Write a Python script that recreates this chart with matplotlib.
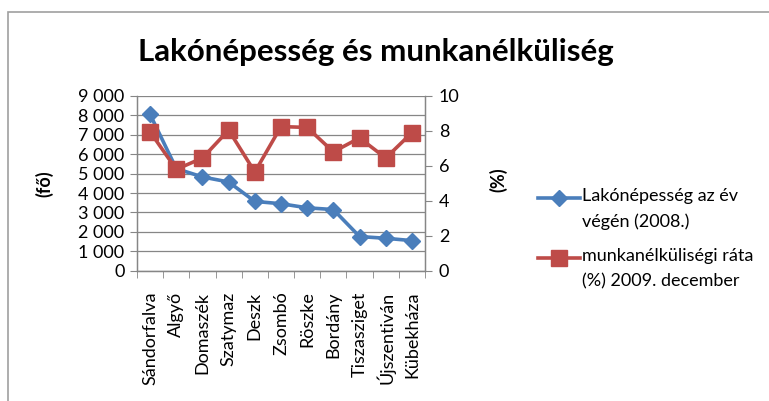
import matplotlib
matplotlib.use("Agg")
import matplotlib.pyplot as plt
from matplotlib.patches import Rectangle
from matplotlib.lines import Line2D

plt.rcParams['font.family'] = ['Lato', 'DejaVu Sans']

categories = ["Sándorfalva", "Algyő", "Domaszék", "Szatymaz", "Deszk", "Zsombó",
              "Röszke", "Bordány", "Tiszasziget", "Újszentiván", "Kübekháza"]
population = [8050, 5260, 4830, 4570, 3570, 3450, 3240, 3150, 1760, 1670, 1550]
unemployment = [7.95, 5.8, 6.45, 8.05, 5.65, 8.25, 8.2, 6.8, 7.6, 6.45, 7.9]
left_ticks = [0, 1000, 2000, 3000, 4000, 5000, 6000, 7000, 8000, 9000]
left_labels = ["0", "1 000", "2 000", "3 000", "4 000", "5 000", "6 000", "7 000", "8 000", "9 000"]
right_ticks = [0, 2, 4, 6, 8, 10]
series_names = ["Lakónépesség az év\nvégén (2008.)", "munkanélküliségi ráta\n(%) 2009. december"]

blue = "#4a7ebb"
red = "#be4b48"
grid_c = "#868686"

W, H = 769, 401
fig = plt.figure(figsize=(W / 100, H / 100), dpi=100)

# outer chart border
fig.patches.append(Rectangle((8 / W, -0.2), 1.2, 1.2 - 12 / H, transform=fig.transFigure,
                             fill=False, edgecolor="#a0a0a0", linewidth=1.2))

ax = fig.add_axes([137 / W, 1 - 270.7 / H, (425 - 137) / W, (270.7 - 96) / H])
ax2 = ax.twinx()

x = list(range(len(categories)))
ax.plot(x, population, color=blue, linewidth=2.6, marker="D", markersize=8.5,
        markeredgecolor=blue, zorder=3)
ax2.plot(x, unemployment, color=red, linewidth=2.6, marker="s", markersize=11,
         markeredgecolor=red, zorder=3)

ax.set_xlim(-0.5, len(categories) - 0.5)
ax.set_ylim(0, 9000)
ax2.set_ylim(0, 10)
ax.set_yticks(left_ticks)
ax.set_yticklabels(left_labels)
ax2.set_yticks(right_ticks)

ax.set_xticks(x)
ax.set_xticklabels(categories, rotation=90, fontsize=13)
ax.tick_params(axis="x", length=0, pad=15)
ax.set_xticks([i - 0.5 for i in range(len(categories) + 1)], minor=True)
ax.tick_params(axis="x", which="minor", length=5, color=grid_c, direction="out")

ax.grid(axis="y", color=grid_c, linewidth=0.9)
ax.set_axisbelow(True)
ax.tick_params(axis="y", length=5, color=grid_c, labelsize=13, pad=4)
ax2.tick_params(axis="y", length=5, color=grid_c, labelsize=13, pad=5)

for a in (ax, ax2):
    a.spines["top"].set_visible(False)
    for s in ("left", "right", "bottom"):
        a.spines[s].set_color(grid_c)
        a.spines[s].set_linewidth(0.9)
    a.patch.set_visible(False)

ax.set_ylabel("(fő)", fontsize=13, fontweight="bold")
ax.yaxis.set_label_coords((53 - 137) / 288, 0.5)
ax2.set_ylabel("(%)", fontsize=13, fontweight="bold")
ax2.yaxis.set_label_coords((489 - 137) / 288, 0.52)

fig.text(376 / W, 1 - 52 / H, "Lakónépesség és munkanélküliség", ha="center", va="center",
         fontsize=22.5, fontweight="bold")

# legend (drawn manually so the marker lines up with the first text line)
leg_y = [198, 258]
styles = [dict(color=blue, marker="D", markersize=8.5), dict(color=red, marker="s", markersize=11)]
for name, yy, st in zip(series_names, leg_y, styles):
    fig.add_artist(Line2D([538 / W, 580 / W], [1 - yy / H, 1 - yy / H], transform=fig.transFigure,
                          linewidth=2.6, color=st["color"]))
    fig.add_artist(Line2D([559 / W], [1 - yy / H], transform=fig.transFigure,
                          linestyle="none", marker=st["marker"], markersize=st["markersize"],
                          color=st["color"]))
    fig.text(582 / W, 1 - (yy - 10) / H, name, ha="left", va="top", fontsize=13,
             linespacing=1.7)

fig.savefig("out.png", dpi=100)
